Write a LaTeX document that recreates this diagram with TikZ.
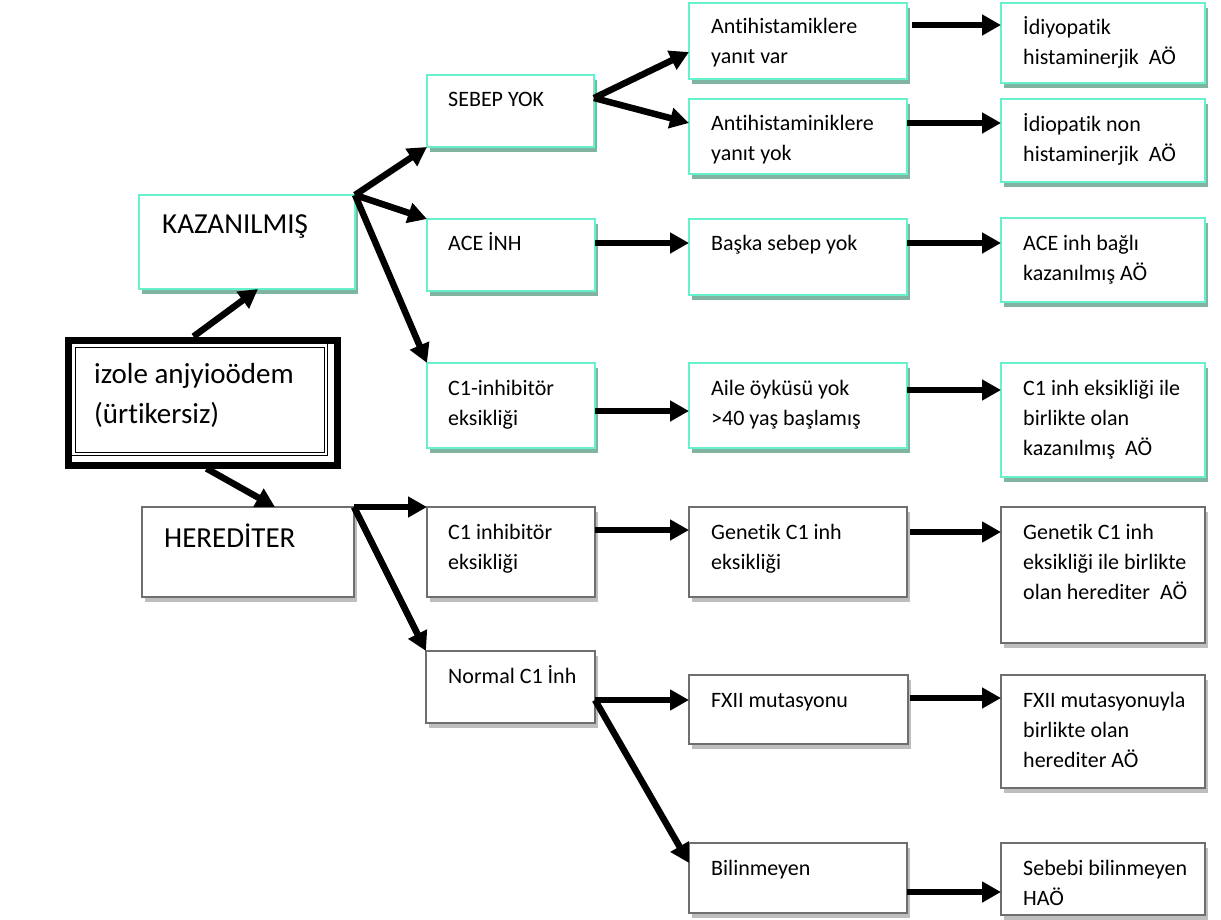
\documentclass[tikz,border=0pt]{standalone}
\usepackage{fontspec}
\setmainfont{Carlito}[RawFeature={-liga}]
\usetikzlibrary{arrows.meta,shadows}
\definecolor{gborder}{RGB}{102,240,204}
\definecolor{gshadow}{RGB}{128,180,160}
\definecolor{kborder}{RGB}{110,110,110}
\definecolor{kshadow}{RGB}{190,190,190}
\tikzset{
  boxbase/.style={draw, line width=2.2pt, fill=white, inner sep=0pt, outer sep=0pt, anchor=north west},
  gbox/.style={boxbase, draw=gborder, drop shadow={shadow xshift=3pt, shadow yshift=-5pt, fill=gshadow, opacity=1}},
  kbox/.style={boxbase, draw=kborder, drop shadow={shadow xshift=3pt, shadow yshift=-5pt, fill=kshadow, opacity=1}},
  txt/.style={anchor=base west, inner sep=0pt, font=\fontsize{22}{30}\selectfont},
  bigtxt/.style={anchor=base west, inner sep=0pt, font=\fontsize{29}{40}\selectfont},
  arr/.style={line width=6.5pt, -{Triangle[length=19pt,width=20pt]}},
}
\newcommand{\ml}[1]{\begin{tabular}[t]{@{}l@{}}#1\end{tabular}}
\begin{document}
\begin{tikzpicture}[x=1pt,y=-1pt]
\fill[white] (0,0) rectangle (1221,919);
\useasboundingbox (0,0) rectangle (1221,919);

% root box
\node[draw, line width=7pt, minimum width=269pt, minimum height=125pt, inner sep=0pt, anchor=north west] (root) at (64.5,336.5) {};
\node[draw, line width=1.3pt, minimum width=256pt, minimum height=112pt, inner sep=0pt, anchor=north west] (rootin) at (71,343) {};
\node[draw, line width=1.3pt, minimum width=249pt, minimum height=105pt, inner sep=0pt, anchor=north west] (rootin2) at (74.5,346.5) {};
\node[bigtxt] (t-root) at (94,383) {\ml{izole anjyioödem\\(ürtikersiz)}};

% level 1
\node[gbox, minimum width=216pt, minimum height=94pt] (kaz) at (139,195) {};
\node[bigtxt] (t-kaz) at (162,233) {KAZANILMIŞ};
\node[kbox, minimum width=212pt, minimum height=90pt] (her) at (142,507) {};
\node[bigtxt] (t-her) at (164,547) {HEREDİTER};

% level 2
\node[gbox, minimum width=167pt, minimum height=72pt] (sebep) at (427,75) {};
\node[txt] (t-sebep) at (448,106) {SEBEP YOK};
\node[gbox, minimum width=168pt, minimum height=72pt] (ace) at (427,219) {};
\node[txt] (t-ace) at (448,250) {ACE İNH};
\node[gbox, minimum width=168pt, minimum height=85pt] (c1g) at (427,363) {};
\node[txt] (t-c1g) at (448,395) {\ml{C1-inhibitör\\eksikliği}};
\node[kbox, minimum width=168pt, minimum height=90pt] (c1h) at (427,507) {};
\node[txt] (t-c1h) at (448,539) {\ml{C1 inhibitör\\eksikliği}};
\node[kbox, minimum width=169pt, minimum height=72pt] (norm) at (426,651) {};
\node[txt] (t-norm) at (448,683) {Normal C1 İnh};

% level 3
\node[gbox, minimum width=218pt, minimum height=76pt] (ahvar) at (689,3) {};
\node[txt] (t-ahvar) at (711,33) {\ml{Antihistamiklere\\yanıt var}};
\node[gbox, minimum width=218pt, minimum height=75pt] (ahyok) at (689,99) {};
\node[txt] (t-ahyok) at (711,130) {\ml{Antihistaminiklere\\yanıt yok}};
\node[gbox, minimum width=218pt, minimum height=76pt] (baska) at (689,219) {};
\node[txt] (t-baska) at (711,250) {Başka sebep yok};
\node[gbox, minimum width=218pt, minimum height=85pt] (aile) at (689,363) {};
\node[txt] (t-aile) at (711,395) {\ml{Aile öyküsü yok\\>40 yaş başlamış}};
\node[kbox, minimum width=218pt, minimum height=90pt] (gen) at (689,507) {};
\node[txt] (t-gen) at (711,539) {\ml{Genetik C1 inh\\eksikliği}};
\node[kbox, minimum width=219pt, minimum height=69pt] (fxii) at (689,675) {};
\node[txt] (t-fxii) at (711,707) {FXII mutasyonu};
\node[kbox, minimum width=218pt, minimum height=70pt] (bil) at (689,843) {};
\node[txt] (t-bil) at (711,875) {Bilinmeyen};

% level 4
\node[gbox, minimum width=204pt, minimum height=80pt] (idh) at (1001,3) {};
\node[txt] (t-idh) at (1023,34) {\ml{İdiyopatik\\histaminerjik\ \ AÖ}};
\node[gbox, minimum width=204pt, minimum height=83pt] (idn) at (1001,99) {};
\node[txt] (t-idn) at (1023,131) {\ml{İdiopatik non\\histaminerjik\ \ AÖ}};
\node[gbox, minimum width=204pt, minimum height=84pt] (aceb) at (1001,218) {};
\node[txt] (t-aceb) at (1023,250) {\ml{ACE inh bağlı\\kazanılmış AÖ}};
\node[gbox, minimum width=204pt, minimum height=114pt] (c1k) at (1001,363) {};
\node[txt] (t-c1k) at (1023,395) {\ml{C1 inh eksikliği ile\\birlikte olan\\kazanılmış\ \ AÖ}};
\node[kbox, minimum width=204pt, minimum height=136pt] (genh) at (1001,507) {};
\node[txt] (t-genh) at (1023,539) {\ml{Genetik C1 inh\\eksikliği ile birlikte\\olan herediter\ \ AÖ}};
\node[kbox, minimum width=204pt, minimum height=113pt] (fxiih) at (1001,675) {};
\node[txt] (t-fxiih) at (1023,707) {\ml{FXII mutasyonuyla\\birlikte olan\\herediter AÖ}};
\node[kbox, minimum width=204pt, minimum height=72pt] (seb) at (1001,843) {};
\node[txt] (t-seb) at (1023,875) {\ml{Sebebi bilinmeyen\\HAÖ}};

% connectors
\draw[arr] ([xshift=129pt]root.north west) -- ([xshift=119pt]kaz.south west);
\draw[arr] ([xshift=142pt]root.south west) -- ([xshift=133pt]her.north west);
\draw[arr] (kaz.north east) -- (sebep.south west);
\draw[arr] (kaz.north east) -- (ace.north west);
\draw[arr] (kaz.north east) -- (c1g.north west);
\draw[arr] (her.north east) -- (c1h.north west);
\draw[arr] (her.north east) -- (norm.north west);
\draw[arr] ([yshift=-23pt]sebep.north east) -- ([yshift=-49pt]ahvar.north west);
\draw[arr] ([yshift=-23pt]sebep.north east) -- ([yshift=-24pt]ahyok.north west);
\draw[arr] ([xshift=5pt,yshift=-22pt]ahvar.north east) -- ([yshift=-22pt]idh.north west);
\draw[arr] ([yshift=-24pt]ahyok.north east) -- ([yshift=-24pt]idn.north west);
\draw[arr] ([yshift=-24pt]ace.north east) -- ([yshift=-24pt]baska.north west);
\draw[arr] ([yshift=-24pt]baska.north east) -- ([yshift=-25pt]aceb.north west);
\draw[arr] ([yshift=-48pt]c1g.north east) -- ([yshift=-48pt]aile.north west);
\draw[arr] ([yshift=-27pt]aile.north east) -- ([yshift=-27pt]c1k.north west);
\draw[arr] ([yshift=-23pt]c1h.north east) -- ([yshift=-23pt]gen.north west);
\draw[arr] ([xshift=3pt,yshift=-25pt]gen.north east) -- ([yshift=-25pt]genh.north west);
\draw[arr] ([yshift=-49pt]norm.north east) -- ([yshift=-25pt]fxii.north west);
\draw[arr] ([yshift=-49pt]norm.north east) -- ([yshift=-20pt]bil.north west);
\draw[arr] ([xshift=2pt,yshift=-23pt]fxii.north east) -- ([yshift=-23pt]fxiih.north west);
\draw[arr] ([yshift=-49pt]bil.north east) -- ([yshift=-49pt]seb.north west);
\end{tikzpicture}
\end{document}
